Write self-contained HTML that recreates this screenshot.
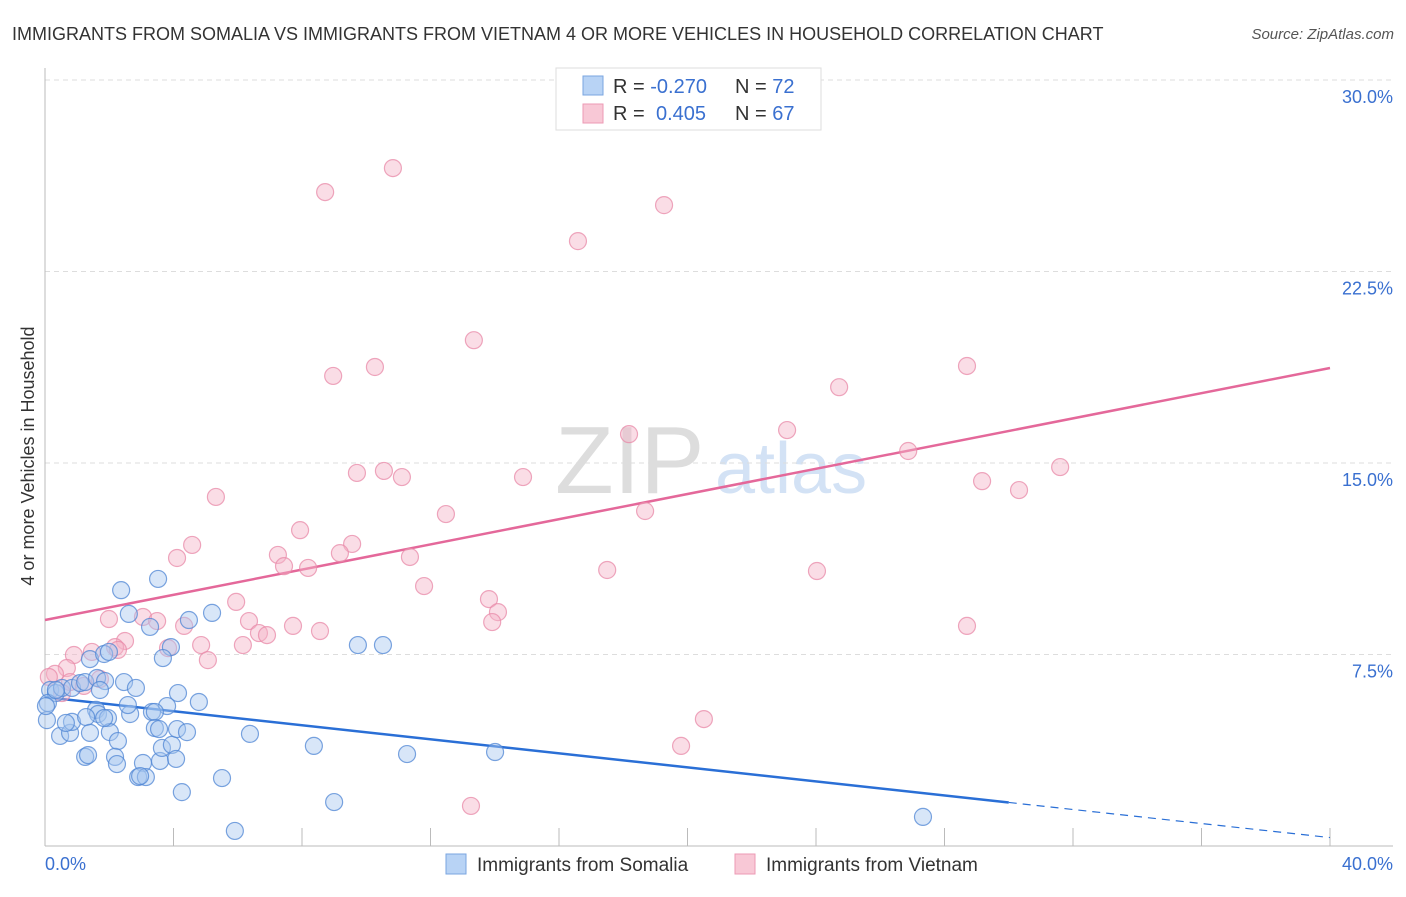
<!DOCTYPE html>
<html><head><meta charset="utf-8"><style>
body{margin:0;background:#fff;font-family:"Liberation Sans",sans-serif;}
svg text{font-family:"Liberation Sans",sans-serif;}
</style></head><body>
<svg id="chart" width="1406" height="892" viewBox="0 0 1406 892">
<text x="12" y="40" font-size="18" fill="#333">IMMIGRANTS FROM SOMALIA VS IMMIGRANTS FROM VIETNAM 4 OR MORE VEHICLES IN HOUSEHOLD CORRELATION CHART</text>
<text x="1394" y="39" font-size="15" fill="#555" font-style="italic" text-anchor="end">Source: ZipAtlas.com</text>
<text x="555" y="493" font-size="96" fill="#ddd" font-family="Liberation Serif">ZIP</text>
<text x="715" y="493" font-size="72" fill="#d3e2f5">atlas</text>
<text transform="translate(34,456) rotate(-90)" font-size="18" fill="#333" text-anchor="middle">4 or more Vehicles in Household</text>
<g id="grid"></g><g id="axes"></g><g id="trends"></g><g id="pts"></g>
<g>
<rect x="556" y="68" width="265" height="62" fill="#fff" stroke="#ddd"/>
<rect x="583" y="76" width="20" height="19" fill="#b8d3f5" stroke="#7aa6e0"/>
<rect x="583" y="104" width="20" height="19" fill="#f8c8d6" stroke="#ec9ab4"/>
<text x="613" y="93" font-size="20" fill="#333">R = <tspan fill="#3a70d0">-0.270</tspan></text>
<text x="735" y="93" font-size="20" fill="#333">N = <tspan fill="#3a70d0">72</tspan></text>
<text x="613" y="120" font-size="20" fill="#333">R = <tspan fill="#3a70d0" x="656">0.405</tspan></text>
<text x="735" y="120" font-size="20" fill="#333">N = <tspan fill="#3a70d0">67</tspan></text>
</g>
<g>
<rect x="446" y="854" width="20" height="20" fill="#b8d3f5" stroke="#7aa6e0"/>
<text x="477" y="871" font-size="19" fill="#333">Immigrants from Somalia</text>
<rect x="735" y="854" width="20" height="20" fill="#f8c8d6" stroke="#ec9ab4"/>
<text x="766" y="871" font-size="19" fill="#333">Immigrants from Vietnam</text>
</g>
</svg>
<script>
const yTicks=[7.5,15,22.5,30];
const yTickLabels=["7.5%","15.0%","22.5%","30.0%"];
const xTicks=[0,4,8,12,16,20,24,28,32,36,40];
const xEndLabels=["0.0%","40.0%"];
const somaliaX=[2.37,3.52,2.61,5.20,3.27,4.48,3.92,3.67,1.40,1.84,1.99,9.74,10.52,0.16,0.34,0.53,0.84,1.09,1.25,1.62,1.87,2.46,2.83,4.14,4.79,3.80,3.33,3.42,2.65,1.59,1.65,0.09,0.06,0.47,0.78,0.84,1.28,1.96,2.02,2.27,1.40,1.25,1.34,2.18,2.24,3.05,2.90,3.14,2.96,3.58,3.64,3.95,4.08,4.11,4.42,3.42,3.55,2.58,1.84,6.38,8.37,5.51,4.26,5.91,9.00,11.27,14.01,27.33,0.03,0.65,0.34,1.71];
const somaliaY=[10.02,10.46,9.09,9.13,8.58,8.85,7.79,7.36,7.32,7.52,7.60,7.87,7.87,6.11,5.99,6.19,6.19,6.38,6.42,6.58,6.46,6.42,6.19,5.99,5.64,5.48,5.25,5.25,5.17,5.33,5.17,5.60,4.93,4.31,4.43,4.86,5.05,5.01,4.46,4.11,4.43,3.49,3.56,3.49,3.21,3.25,2.70,2.70,2.74,3.33,3.84,3.96,3.41,4.58,4.46,4.62,4.58,5.52,5.01,4.39,3.92,2.66,2.11,0.59,1.72,3.60,3.68,1.14,5.48,4.82,6.11,6.11];
const vietnamX=[10.83,8.72,19.27,16.59,13.35,8.97,10.27,28.70,24.72,23.10,18.18,26.87,31.60,9.71,10.55,11.11,14.88,29.17,30.32,12.48,18.68,5.32,7.94,4.58,4.11,9.56,9.18,11.36,7.25,7.44,8.19,11.80,17.50,24.03,5.95,1.99,3.05,3.49,4.33,6.35,7.72,8.56,6.66,6.91,4.86,6.16,2.49,2.18,3.83,5.07,13.82,14.10,13.92,28.70,0.90,1.46,0.68,0.31,0.12,0.78,1.21,1.71,0.53,20.51,19.80,13.26,2.27];
const vietnamY=[26.55,25.61,25.10,23.69,19.81,18.41,18.76,18.80,17.97,16.29,16.13,15.47,14.84,14.61,14.69,14.45,14.45,14.29,13.94,13.00,13.12,13.67,12.37,11.79,11.28,11.83,11.47,11.32,11.40,10.96,10.89,10.18,10.81,10.77,9.56,8.89,8.97,8.81,8.62,8.81,8.62,8.42,8.34,8.26,7.87,7.87,8.03,7.79,7.75,7.28,9.67,9.16,8.77,8.62,7.48,7.60,6.97,6.74,6.62,6.42,6.27,6.54,5.99,4.97,3.92,1.57,7.68];
const somaliaTrend=[5.83,-0.1375];
const vietnamTrend=[8.85,0.2468];
const solidEnd=30;

const X0=45,X1=1330,Y0=846,Y1=80;
const sx=v=>X0+(v/40)*(X1-X0);
const sy=v=>Y0-(v/30)*(Y0-Y1);
const NS="http://www.w3.org/2000/svg";
function mk(tag,parent,attrs){const e=document.createElementNS(NS,tag);for(const k in attrs)e.setAttribute(k,attrs[k]);document.getElementById(parent).appendChild(e);return e;}

yTicks.forEach((t,i)=>{
  const l=mk('line','grid',{x1:X0,x2:1393,y1:sy(t),y2:sy(t),stroke:'#ddd','stroke-dasharray':'5,4'});
  
  
  const tx=mk('text','grid',{x:1393,y:sy(t)+23,'font-size':18,fill:'#3a70d0','text-anchor':'end'});
  tx.textContent=yTickLabels[i];
  
  
});
let ax=mk('line','axes',{x1:X0,x2:X0,y1:68,y2:Y0,stroke:'#bbb'});


ax=mk('line','axes',{x1:X0,x2:1393,y1:Y0,y2:Y0,stroke:'#bbb'});


xTicks.forEach(t=>{
  const l=mk('line','axes',{x1:sx(t),x2:sx(t),y1:Y0-18,y2:Y0,stroke:'#bbb'});
  
  
});
let xl=mk('text','axes',{x:45,y:870,'font-size':18,fill:'#3a70d0'});
xl.textContent=xEndLabels[0];


xl=mk('text','axes',{x:1393,y:870,'font-size':18,fill:'#3a70d0','text-anchor':'end'});
xl.textContent=xEndLabels[1];



function pts(xs,ys,fill,stroke,name){
  xs.forEach((x,i)=>{
    const c=mk('circle','pts',{cx:sx(x),cy:sy(ys[i]),r:8.5,fill:fill,'fill-opacity':0.45,stroke:stroke,'stroke-opacity':0.75,'stroke-width':1.2});
    
    
  });
}
pts(vietnamX,vietnamY,'#f5b3c7','#e889a8','vietnam-point');
pts(somaliaX,somaliaY,'#a9c8f0','#4f86d4','somalia-point');

let t=mk('line','trends',{x1:sx(0),y1:sy(somaliaTrend[0]),x2:sx(solidEnd),y2:sy(somaliaTrend[0]+somaliaTrend[1]*solidEnd),stroke:'#2a6fd6','stroke-width':2.5});


t=mk('line','trends',{x1:sx(solidEnd),y1:sy(somaliaTrend[0]+somaliaTrend[1]*solidEnd),x2:sx(40),y2:sy(somaliaTrend[0]+somaliaTrend[1]*40),stroke:'#2a6fd6','stroke-width':1.2,'stroke-dasharray':'8,6'});


t=mk('line','trends',{x1:sx(0),y1:sy(vietnamTrend[0]),x2:sx(40),y2:sy(vietnamTrend[0]+vietnamTrend[1]*40),stroke:'#e4689a','stroke-width':2.5});


</script>
</body></html>
